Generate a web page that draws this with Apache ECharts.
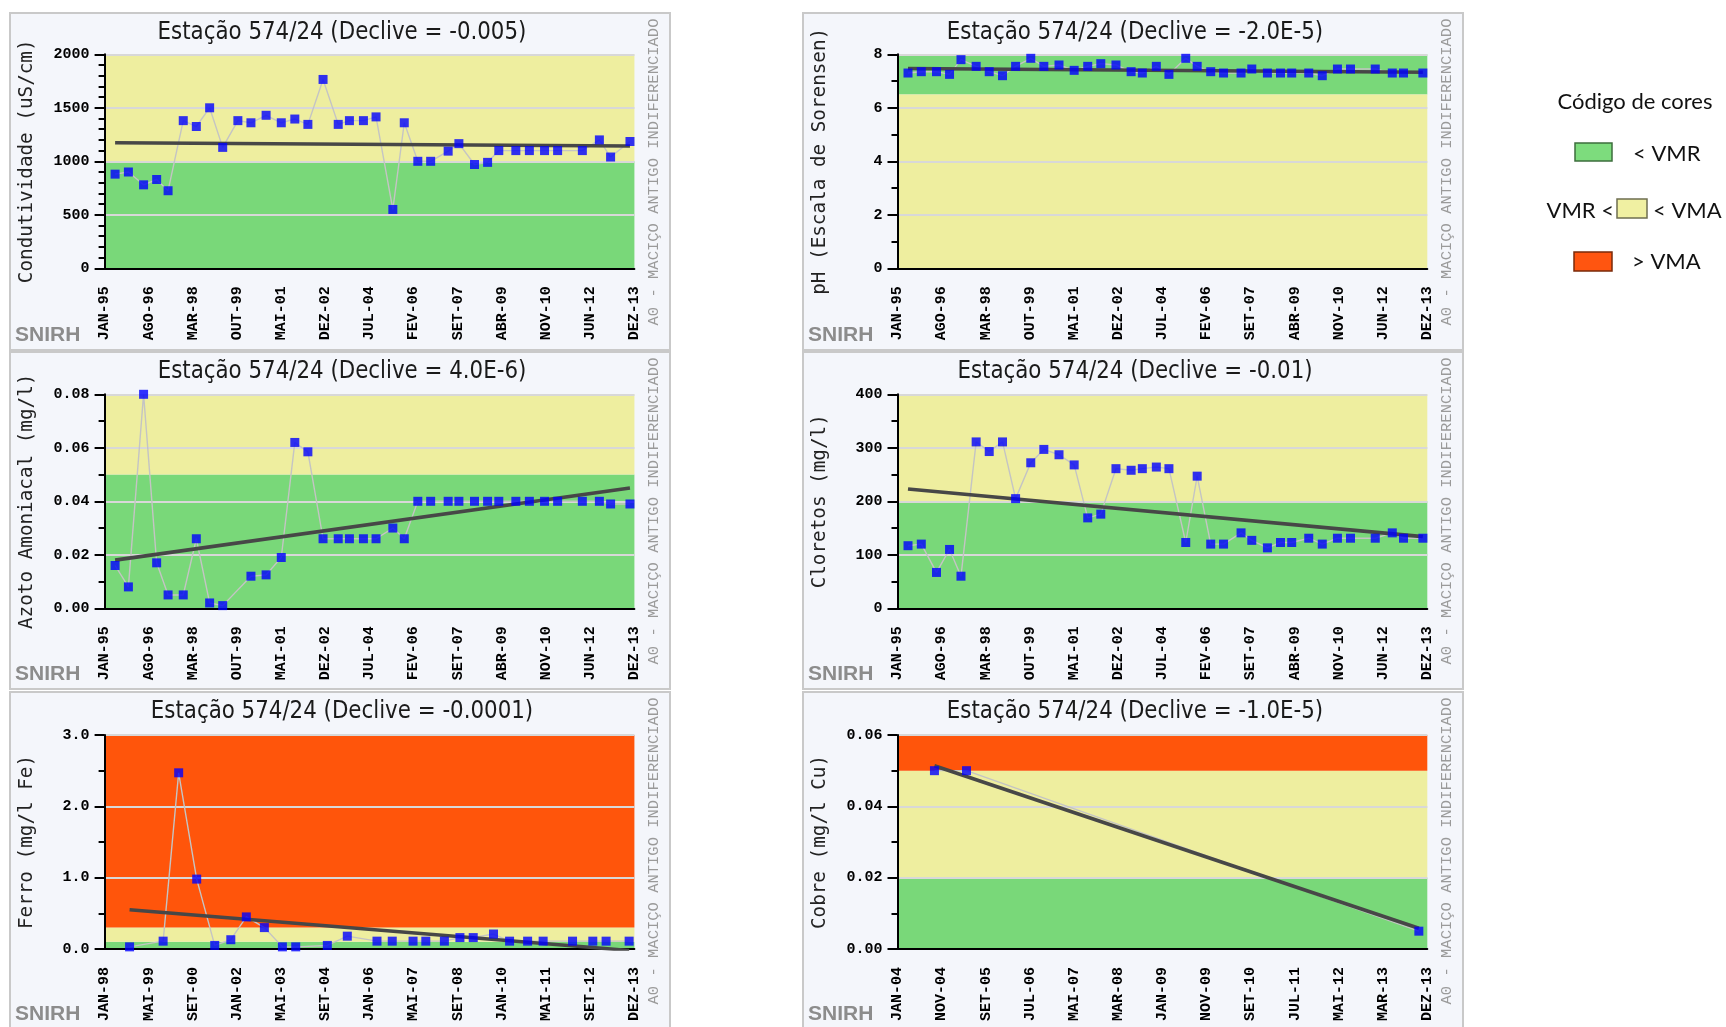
<!DOCTYPE html>
<html>
<head>
<meta charset="utf-8">
<title>Estação 574/24</title>
<script src="https://cdn.jsdelivr.net/npm/echarts@6/dist/echarts.min.js"></script>
<style>
  html, body { margin: 0; padding: 0; background: #ffffff; }
  #chart { width: 1726px; height: 1027px; }
</style>
</head>
<body>
<div id="chart"></div>
<script>
// ---------------------------------------------------------------
// Station 574/24 – water quality time series (SNIRH)
// ---------------------------------------------------------------
const station = '574/24';
const aquifer = 'A0 - MACIÇO ANTIGO INDIFERENCIADO';

// Sampling dates shared by conductivity, pH, ammonia and chloride
const sampleDates = [
  '1995-05-16', '1995-11-07', '1996-05-22', '1996-11-10', '1997-04-07',
  '1997-10-22', '1998-04-10', '1998-10-01', '1999-03-19', '1999-10-04',
  '2000-03-22', '2000-10-07', '2001-04-22', '2001-10-16', '2002-04-04',
  '2002-10-19', '2003-05-04', '2003-09-28', '2004-03-28', '2004-09-10',
  '2005-04-16', '2005-09-13', '2006-03-07', '2006-08-22', '2007-04-07',
  '2007-08-25', '2008-03-16', '2008-09-04', '2009-01-28', '2009-09-07',
  '2010-03-01', '2010-09-16', '2011-03-04', '2012-01-22', '2012-09-01',
  '2013-01-25', '2013-10-04'
];

const condutividade = [
  880, 900, 780, 830, 725, 1380, 1325, 1500, 1130, 1380,
  1360, 1430, 1360, 1395, 1345, 1765, 1345, 1380, 1380, 1415,
  550, 1360, 1000, 1000, 1095, 1165, 970, 990, 1100, 1100,
  1100, 1100, 1100, 1100, 1200, 1040, 1185
];

const ph = [
  7.3, 7.35, 7.35, 7.25, 7.8, 7.55, 7.35, 7.2, 7.55, 7.85,
  7.55, 7.6, 7.4, 7.55, 7.65, 7.6, 7.35, 7.3, 7.55, 7.25,
  7.85, 7.55, 7.35, 7.3, 7.3, 7.45, 7.3, 7.3, 7.3, 7.3,
  7.2, 7.45, 7.45, 7.45, 7.3, 7.3, 7.3
];

const azotoAmoniacal = [
  0.016, 0.008, 0.080, 0.017, 0.005, 0.005, 0.026, 0.002, 0.001, null,
  0.012, 0.0125, 0.019, 0.062, 0.0585, 0.026, 0.026, 0.026, 0.026, 0.026,
  0.030, 0.026, 0.040, 0.040, 0.040, 0.040, 0.040, 0.040, 0.040, 0.040,
  0.040, 0.040, 0.040, 0.040, 0.040, 0.039, 0.039
];

const cloretos = [
  117, 120, 67, 110, 60, 311, 293, 311, 205, 272,
  297, 287, 268, 169, 176, 261, 258, 261, 264, 261,
  123, 247, 120, 120, 141, 127, 113, 123, 123, 131,
  120, 131, 131, 131, 141, 131, 131
];

// Iron series starts in 1998
const ferroDates = [
  '1998-10-01', '1999-10-04', '2000-03-22', '2000-10-07', '2001-04-22',
  '2001-10-16', '2002-04-04', '2002-10-19', '2003-05-04', '2003-09-28',
  '2004-09-10', '2005-04-16', '2006-03-07', '2006-08-22', '2007-04-07',
  '2007-08-25', '2008-03-16', '2008-09-04', '2009-01-28', '2009-09-07',
  '2010-03-01', '2010-09-16', '2011-03-04', '2012-01-22', '2012-09-01',
  '2013-01-25', '2013-10-04'
];
const ferro = [
  0.03, 0.11, 2.47, 0.98, 0.05, 0.13, 0.45, 0.30, 0.03, 0.03,
  0.05, 0.18, 0.11, 0.11, 0.11, 0.11, 0.11, 0.16, 0.16, 0.21,
  0.11, 0.11, 0.11, 0.11, 0.11, 0.11, 0.11
];

// Copper series starts in 2004
const cobreDates = ['2004-09-10', '2005-04-16', '2013-10-04'];
const cobre = [0.05, 0.05, 0.005];

// Trend line values at the first and last sample of each series
const trendCondutividade = [1174, 1143];
const trendPh = [7.47, 7.33];
const trendAzoto = [0.018, 0.045];
const trendCloretos = [223, 134];
const trendFerro = [0.55, -0.02];
const trendCobre = [0.0514, 0.0058];

// Quality classes: [low, high, class] with 0 = < VMR, 1 = VMR..VMA, 2 = > VMA
const bandsCondutividade = [[0, 1000, 0], [1000, 2000, 1]];
const bandsPh = [[6.5, 8, 0], [0, 6.5, 1]];
const bandsAzoto = [[0, 0.05, 0], [0.05, 0.08, 1]];
const bandsCloretos = [[0, 200, 0], [200, 400, 1]];
const bandsFerro = [[0, 0.1, 0], [0.1, 0.3, 1], [0.3, 3.0, 2]];
const bandsCobre = [[0, 0.02, 0], [0.02, 0.05, 1], [0.05, 0.06, 2]];

// Slopes shown in the panel titles
const declives = ['-0.005', '-2.0E-5', '4.0E-6', '-0.01', '-0.0001', '-1.0E-5'];

// Axis names
const yNames = [
  'Condutividade (uS/cm)', 'pH (Escala de Sorensen)', 'Azoto Amoniacal (mg/l)',
  'Cloretos (mg/l)', 'Ferro (mg/l Fe)', 'Cobre (mg/l Cu)'
];

// Y scales
const yMax = [2000, 8, 0.08, 400, 3, 0.06];
const yStep = [500, 2, 0.02, 100, 1, 0.02];
const yMinorSplits = [5, 2, 2, 2, 2, 2];
const yDecimals = [0, 0, 2, 0, 1, 2];

// X tick labels (13 equally spaced ticks per axis)
const ticks9513 = ['JAN-95', 'AGO-96', 'MAR-98', 'OUT-99', 'MAI-01', 'DEZ-02', 'JUL-04',
  'FEV-06', 'SET-07', 'ABR-09', 'NOV-10', 'JUN-12', 'DEZ-13'];
const ticks9813 = ['JAN-98', 'MAI-99', 'SET-00', 'JAN-02', 'MAI-03', 'SET-04', 'JAN-06',
  'MAI-07', 'SET-08', 'JAN-10', 'MAI-11', 'SET-12', 'DEZ-13'];
const ticks0413 = ['JAN-04', 'NOV-04', 'SET-05', 'JUL-06', 'MAI-07', 'MAR-08', 'JAN-09',
  'NOV-09', 'SET-10', 'JUL-11', 'MAI-12', 'MAR-13', 'DEZ-13'];

// Axis time span: [first year (January), last year (December)]
const span9513 = [1995, 2013];
const span9813 = [1998, 2013];
const span0413 = [2004, 2013];

// ---------------------------------------------------------------
const classColors = ['#79d879', '#eeee9f', '#ff550b'];

// position on an axis in tick units (0..12)
function tickPos(dateStr, span) {
  const [y, m, d] = dateStr.split('-').map(Number);
  const months = (y - span[0]) * 12 + (m - 1) + (d - 1) / 30;
  const total = (span[1] - span[0]) * 12 + 11;
  return months * 12 / total;
}

const panels = [
  { dates: sampleDates, values: condutividade, trend: trendCondutividade, bands: bandsCondutividade, ticks: ticks9513, span: span9513 },
  { dates: sampleDates, values: ph, trend: trendPh, bands: bandsPh, ticks: ticks9513, span: span9513 },
  { dates: sampleDates, values: azotoAmoniacal, trend: trendAzoto, bands: bandsAzoto, ticks: ticks9513, span: span9513 },
  { dates: sampleDates, values: cloretos, trend: trendCloretos, bands: bandsCloretos, ticks: ticks9513, span: span9513 },
  { dates: ferroDates, values: ferro, trend: trendFerro, bands: bandsFerro, ticks: ticks9813, span: span9813 },
  { dates: cobreDates, values: cobre, trend: trendCobre, bands: bandsCobre, ticks: ticks0413, span: span0413 }
];

// page layout
const colFrameX = [10, 803];
const colFrameW = [660, 660];
const rowFrameY = [13, 352, 692];
const rowFrameH = 337;
const colPlotLeft = [104.6, 897.5];
const plotWidth = 529.8;
const rowPlotTop = [54.3, 394.3, 735];
const plotHeight = 214;

const monoFont = '"Liberation Mono", "DejaVu Sans Mono", monospace';

const grids = [], xAxes = [], yAxes = [], series = [], graphics = [];

panels.forEach(function (p, i) {
  const col = i % 2, row = Math.floor(i / 2);
  const fx = colFrameX[col], fy = rowFrameY[row], fw = colFrameW[col];

  // panel frame
  graphics.push({
    type: 'rect', z: -100,
    shape: { x: fx, y: fy, width: fw, height: rowFrameH },
    style: { fill: '#f4f6fb', stroke: '#c9c9c9', lineWidth: 2 }
  });
  // title
  graphics.push({
    type: 'text', z: 100, x: fx + fw / 2 + 2, y: fy + 19, scaleX: 0.95,
    style: {
      text: 'Estação ' + station + ' (Declive = ' + declives[i] + ')',
      fontFamily: '"Liberation Sans Narrow", "DejaVu Sans Condensed", "Liberation Sans", sans-serif',
      fontSize: 25, fill: '#1a1a1a', align: 'center', verticalAlign: 'middle'
    }
  });
  // SNIRH tag
  graphics.push({
    type: 'text', z: 100, x: fx + 5, y: fy + 322,
    style: {
      text: 'SNIRH', fontFamily: '"Liberation Sans", sans-serif', fontWeight: 'bold',
      fontSize: 21, fill: '#8c8c8c', align: 'left', verticalAlign: 'middle'
    }
  });
  // aquifer name along the right edge
  graphics.push({
    type: 'text', z: 100, x: fx + fw - 16, y: fy + 159, rotation: Math.PI / 2,
    style: {
      text: aquifer, fontFamily: monoFont, fontSize: 15.5, fill: '#9a9a9a',
      align: 'center', verticalAlign: 'middle'
    }
  });

  grids.push({
    left: colPlotLeft[col], top: rowPlotTop[row], width: plotWidth, height: plotHeight,
    show: false, containLabel: false
  });

  const ticks = p.ticks;
  xAxes.push({
    type: 'value', gridIndex: i, min: 0, max: 12, interval: 1,
    axisLine: { show: true, onZero: false, lineStyle: { color: '#000', width: 2 } },
    axisTick: { show: false },
    splitLine: { show: false },
    axisLabel: {
      rotate: 90, margin: 18, color: '#000', fontFamily: monoFont, fontWeight: 'bold', fontSize: 15,
      showMinLabel: true, showMaxLabel: true,
      formatter: function (v) { return ticks[Math.round(v)] || ''; }
    }
  });

  const dec = yDecimals[i];
  yAxes.push({
    type: 'value', gridIndex: i, min: 0, max: yMax[i], interval: yStep[i],
    name: yNames[i], nameLocation: 'middle', nameRotate: 90, nameGap: 68,
    nameTextStyle: { fontFamily: '"DejaVu Sans Mono", monospace', fontSize: 19.3, color: '#222' },
    axisLine: { show: true, lineStyle: { color: '#000', width: 2 } },
    axisTick: { show: true, length: 10, lineStyle: { color: '#000', width: 2 } },
    minorTick: { show: true, splitNumber: yMinorSplits[i], length: 6, lineStyle: { color: '#000', width: 2 } },
    splitLine: { show: true, lineStyle: { color: '#d8d8d8', width: 2 } },
    axisLabel: {
      margin: 15, color: '#000', fontFamily: monoFont, fontWeight: 'bold', fontSize: 15,
      formatter: function (v) { return v.toFixed(dec); }
    }
  });

  const pts = p.dates.map(function (d, k) { return [tickPos(d, p.span), p.values[k]]; })
    .filter(function (pt) { return pt[1] !== null; });
  const first = tickPos(p.dates[0], p.span);
  const last = tickPos(p.dates[p.dates.length - 1], p.span);

  // quality class bands
  series.push({
    type: 'custom', xAxisIndex: i, yAxisIndex: i, z: -1, silent: true,
    data: p.bands,
    encode: { x: 2, y: [0, 1] },
    renderItem: function (params, api) {
      const lo = api.value(0), hi = api.value(1), cls = api.value(2);
      const cs = params.coordSys;
      const top = api.coord([0, hi])[1];
      const bot = api.coord([0, lo])[1];
      return {
        type: 'rect',
        shape: { x: cs.x, y: top, width: cs.width, height: bot - top },
        style: { fill: classColors[cls] }
      };
    }
  });
  // thin line joining the samples
  series.push({
    type: 'line', xAxisIndex: i, yAxisIndex: i, z: 2, silent: true,
    data: pts, showSymbol: false, connectNulls: true,
    lineStyle: { color: '#c4c4c4', width: 1.4 }
  });
  // trend line
  series.push({
    type: 'line', xAxisIndex: i, yAxisIndex: i, z: 3, silent: true,
    data: [[first, p.trend[0]], [last, p.trend[1]]], showSymbol: false,
    lineStyle: { color: '#474747', width: 3.6 }
  });
  // samples
  series.push({
    type: 'scatter', xAxisIndex: i, yAxisIndex: i, z: 4, silent: true,
    data: pts, symbol: 'rect', symbolSize: 9,
    itemStyle: { color: '#0000ff' }
  });
});

// colour legend
const legendFont = 'Lato, "Open Sans", sans-serif';
graphics.push(
  { type: 'text', x: 1635, y: 102, style: { text: 'Código de cores', fontFamily: legendFont, fontSize: 22, fill: '#111', align: 'center', verticalAlign: 'middle' } },
  { type: 'rect', shape: { x: 1575, y: 143, width: 37, height: 18 }, style: { fill: '#7ddc7d', stroke: '#3d6e3d', lineWidth: 1.5 } },
  { type: 'text', x: 1633, y: 154, style: { text: '< VMR', fontFamily: legendFont, fontSize: 22, fill: '#111', align: 'left', verticalAlign: 'middle' } },
  { type: 'text', x: 1614, y: 211, style: { text: 'VMR <', fontFamily: legendFont, fontSize: 22, fill: '#111', align: 'right', verticalAlign: 'middle' } },
  { type: 'rect', shape: { x: 1617, y: 199, width: 30, height: 19 }, style: { fill: '#f0f0a2', stroke: '#6e6e50', lineWidth: 1.5 } },
  { type: 'text', x: 1653, y: 211, style: { text: '< VMA', fontFamily: legendFont, fontSize: 22, fill: '#111', align: 'left', verticalAlign: 'middle' } },
  { type: 'rect', shape: { x: 1574, y: 252, width: 38, height: 19 }, style: { fill: '#ff5510', stroke: '#7a2a0a', lineWidth: 1.5 } },
  { type: 'text', x: 1632, y: 262, style: { text: '> VMA', fontFamily: legendFont, fontSize: 22, fill: '#111', align: 'left', verticalAlign: 'middle' } }
);

const chart = echarts.init(document.getElementById('chart'), null, { renderer: 'canvas' });
chart.setOption({
  animation: false,
  backgroundColor: '#ffffff',
  grid: grids,
  xAxis: xAxes,
  yAxis: yAxes,
  series: series,
  graphic: { elements: graphics }
});
</script>
</body>
</html>
